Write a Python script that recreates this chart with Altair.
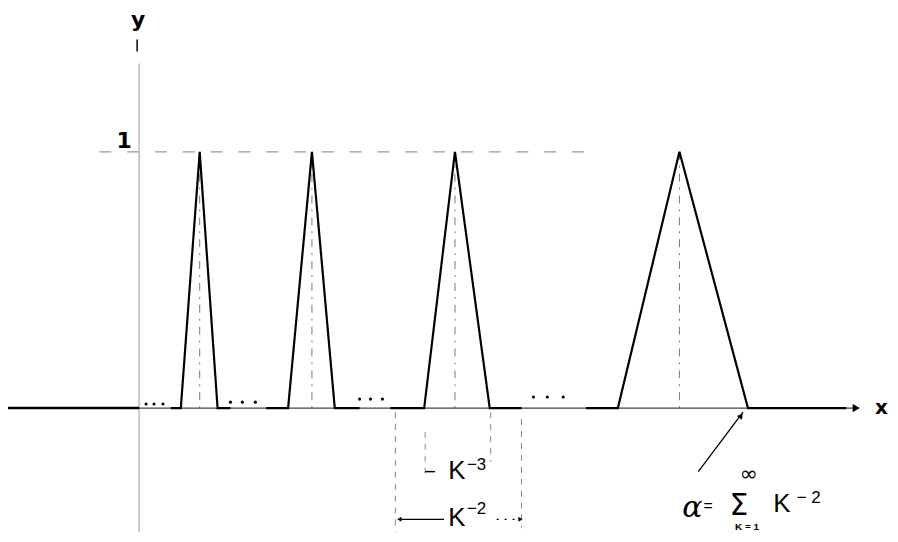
import altair as alt
import pandas as pd

# ---- data (schematic units: x origin at the y-axis, peak height = 1) ----
peak_left   = [42, 150, 287, 482]
peak_center = [61, 174, 318, 544]
peak_right  = [79, 197, 353, 613]
peak_height = [1, 1, 1, 1]
run_start   = [32, 128, 253, 450]
run_end     = [92, 222, 385, 712]

dots_x = [7, 15, 24, 92, 104, 117, 222, 233, 245, 397, 411, 427]
dots_y = [0.016, 0.016, 0.016, 0.023, 0.023, 0.023, 0.035, 0.035, 0.035, 0.043, 0.043, 0.043]

guide_x      = [258, 288, 354, 385]
guide_top    = [-0.016, -0.093, -0.016, -0.043]
guide_bottom = [-0.484, -0.264, -0.209, -0.469]

XD = [-132, 756]
YD = [-0.4845, 1.5543]


def X(f="x"):
    return alt.X(f, type="quantitative", scale=alt.Scale(domain=XD), axis=None)


def Y(f="y"):
    return alt.Y(f, type="quantitative", scale=alt.Scale(domain=YD), axis=None)


# function polyline rows
rows = []
for i in range(len(peak_center)):
    pts = [(run_start[i], 0), (peak_left[i], 0), (peak_center[i], peak_height[i]),
           (peak_right[i], 0), (run_end[i], 0)]
    for j, (xx, yy) in enumerate(pts):
        rows.append({"x": xx, "y": yy, "seg": i, "ord": j})
func_df = pd.DataFrame(rows)

func = alt.Chart(func_df).mark_line(color="black", strokeWidth=2.2).encode(
    x=X(), y=Y(), detail="seg:N", order="ord:Q")

# axes drawn as rules
axis_df = pd.DataFrame({"x": [0], "x2": [720], "y": [0]})
xaxis = alt.Chart(axis_df).mark_rule(color="#444", strokeWidth=1.2).encode(
    x=X(), x2="x2:Q", y=Y())
left_df = pd.DataFrame({"x": [-132], "x2": [0], "y": [0]})
xaxis_left = alt.Chart(left_df).mark_rule(color="black", strokeWidth=2.5).encode(
    x=X(), x2="x2:Q", y=Y())
yaxis_df = pd.DataFrame({"x": [0], "y": [1.345], "y2": [-0.4845]})
yaxis = alt.Chart(yaxis_df).mark_rule(color="#aaa", strokeWidth=1.2).encode(
    x=X(), y=Y(), y2="y2:Q")
ytick_df = pd.DataFrame({"x": [-2], "y": [1.438], "y2": [1.391]})
ytick = alt.Chart(ytick_df).mark_rule(color="black", strokeWidth=1.5).encode(
    x=X(), y=Y(), y2="y2:Q")

xhead_df = pd.DataFrame({"x": [722], "y": [0]})
xhead = alt.Chart(xhead_df).mark_point(shape="triangle-right", filled=True, color="black",
                                       size=70, opacity=1).encode(x=X(), y=Y())

# y = 1 dashed level line
lvl_df = pd.DataFrame({"x": [-40], "x2": [450], "y": [1]})
lvl = alt.Chart(lvl_df).mark_rule(color="#999", strokeWidth=1.2, strokeDash=[12, 16]).encode(
    x=X(), x2="x2:Q", y=Y())

# centre dash-dot lines
cl_df = pd.DataFrame({"x": peak_center, "y": peak_height, "y2": [0] * 4})
clines = alt.Chart(cl_df).mark_rule(color="#777", strokeWidth=1, strokeDash=[8, 6, 2, 6]).encode(
    x=X(), y=Y(), y2="y2:Q")

# dashed guides under the axis
g_df = pd.DataFrame({"x": guide_x, "y": guide_top, "y2": guide_bottom})
guides = alt.Chart(g_df).mark_rule(color="#888", strokeWidth=1, strokeDash=[6, 6]).encode(
    x=X(), y=Y(), y2="y2:Q")

# ellipsis dots
d_df = pd.DataFrame({"x": dots_x, "y": dots_y})
dots = alt.Chart(d_df).mark_point(filled=True, color="black", size=10, opacity=1).encode(
    x=X(), y=Y())

# dimension arrows
k3tick_df = pd.DataFrame({"x": [288], "x2": [298], "y": [-0.248]})
k3tick = alt.Chart(k3tick_df).mark_rule(color="black", strokeWidth=1.5).encode(
    x=X(), x2="x2:Q", y=Y())
k2l_df = pd.DataFrame({"x": [264], "x2": [307], "y": [-0.434]})
k2l = alt.Chart(k2l_df).mark_rule(color="black", strokeWidth=1.3).encode(
    x=X(), x2="x2:Q", y=Y())
k2r_df = pd.DataFrame({"x": [360], "x2": [382], "y": [-0.434]})
k2r = alt.Chart(k2r_df).mark_rule(color="black", strokeWidth=1.3, strokeDash=[2, 6]).encode(
    x=X(), x2="x2:Q", y=Y())
heads_df = pd.DataFrame({"x": [262, 384], "y": [-0.434, -0.434],
                         "shape": ["triangle-left", "triangle-right"]})
heads = alt.Chart(heads_df).mark_point(filled=True, color="black", size=25, opacity=1).encode(
    x=X(), y=Y(), shape=alt.Shape("shape:N", scale=None))

# alpha pointer arrow
arr_df = pd.DataFrame({"x": [563], "x2": [608], "y": [-0.248], "y2": [-0.0155]})
arr = alt.Chart(arr_df).mark_rule(color="black", strokeWidth=1.3).encode(
    x=X(), x2="x2:Q", y=Y(), y2="y2:Q")
arrh_df = pd.DataFrame({"x": [606], "y": [-0.03]})
arrh = alt.Chart(arrh_df).mark_point(shape="triangle-up", filled=True, color="black", size=40,
                                     opacity=1, angle=37).encode(x=X(), y=Y())


def txt(df, **kw):
    base = dict(color="black", font="Liberation Sans")
    base.update(kw)
    return alt.Chart(df).mark_text(**base).encode(x=X(), y=Y(), text="t:N")


bold_df = pd.DataFrame({"x": [-1, -15], "y": [1.5155, 1.043], "t": ["y", "1"]})
bold_t = txt(bold_df, fontSize=22, fontWeight="bold", font="DejaVu Sans")
xlab_df = pd.DataFrame({"x": [741], "y": [0.0], "t": ["x"]})
xlab = txt(xlab_df, fontSize=20, fontWeight="bold", font="DejaVu Sans", align="left")

K_df = pd.DataFrame({"x": [320, 320, 647], "y": [-0.244, -0.43, -0.376], "t": ["K", "K", "K"]})
K_t = txt(K_df, fontSize=26)
sup_df = pd.DataFrame({"x": [330, 330, 662], "y": [-0.221, -0.395, -0.353],
                       "t": ["\u22123", "\u22122", "\u2212 2"]})
sup_t = txt(sup_df, fontSize=17, align="left")

alpha_df = pd.DataFrame({"x": [557], "y": [-0.392], "t": ["\u03b1"]})
alpha_t = txt(alpha_df, fontSize=30, font="DejaVu Serif", fontStyle="italic")
eq_df = pd.DataFrame({"x": [573], "y": [-0.384], "t": ["="]})
eq_t = txt(eq_df, fontSize=16)
sig_df = pd.DataFrame({"x": [604], "y": [-0.384], "t": ["\u03a3"]})
sig_t = txt(sig_df, fontSize=30, font="DejaVu Sans", fontWeight="normal")
inf_df = pd.DataFrame({"x": [614], "y": [-0.258], "t": ["\u221e"]})
inf_t = txt(inf_df, fontSize=22, font="DejaVu Sans")
low_df = pd.DataFrame({"x": [612], "y": [-0.466], "t": ["K = 1"]})
low_t = txt(low_df, fontSize=10, fontWeight="bold")

chart = alt.layer(
    lvl, clines, guides, yaxis, xaxis, xaxis_left, ytick, xhead, func, dots,
    k3tick, k2l, k2r, heads, arr, arrh,
    bold_t, xlab, K_t, sup_t, alpha_t, eq_t, sig_t, inf_t, low_t,
).properties(
    width=888, height=526, padding=0,
    autosize=alt.AutoSizeParams(type="none"),
    background="white",
).configure_view(stroke=None)

chart.save("out.html", embed_options={"renderer": "svg", "actions": False})
